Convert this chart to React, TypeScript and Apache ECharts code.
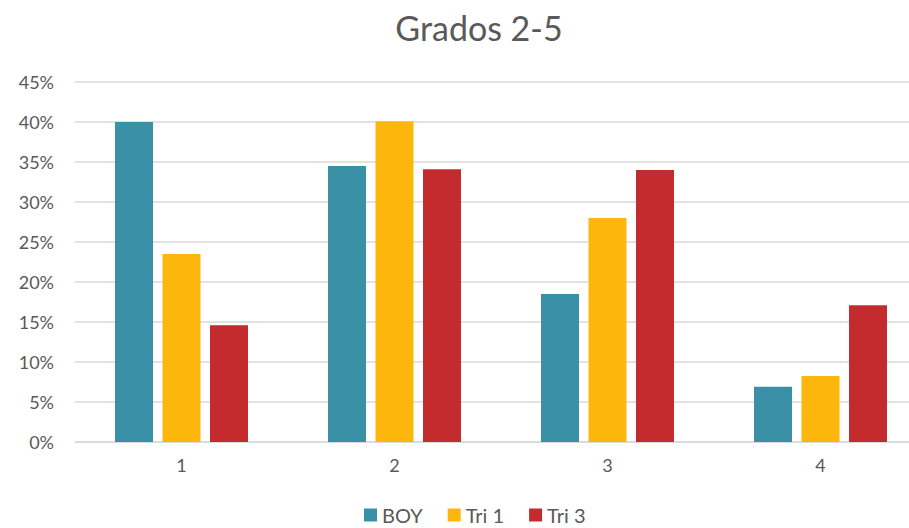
import React, { useEffect, useRef } from "react";
import * as echarts from "echarts";

const categories = ["1", "2", "3", "4"];
const boy = [0.4, 0.345, 0.185, 0.069];
const tri1 = [0.235, 0.401, 0.28, 0.0825];
const tri3 = [0.146, 0.341, 0.34, 0.171];
const seriesNames = ["BOY", "Tri 1", "Tri 3"];
const colors = ["#3A90A7", "#FDB60B", "#C32B2E"];

export default function App() {
  const ref = useRef<HTMLDivElement>(null);
  useEffect(() => {
    if (!ref.current) return;
    const chart = echarts.init(ref.current, undefined, { renderer: "svg" });
    const font = "Lato, 'Open Sans', sans-serif";
    const data = [boy, tri1, tri3];
    chart.setOption({
      animation: false,
      textStyle: { fontFamily: font },
      title: {
        text: "Grados 2-5",
        left: 474,
        top: 5,
        textAlign: "center",
        textStyle: { fontFamily: font, fontSize: 34, fontWeight: "normal", color: "#595959" },
      },
      legend: {
        data: seriesNames,
        left: 364,
        top: 505,
        padding: 0,
        itemWidth: 13,
        itemHeight: 13,
        itemGap: 25,
        icon: "rect",
        textStyle: { fontFamily: font, fontSize: 20, color: "#595959", padding: [0, 0, 0, 0] },
      },
      grid: { left: 75, top: 82, width: 852, height: 360, containLabel: false },
      xAxis: {
        type: "category",
        data: categories,
        axisLine: { show: true, lineStyle: { color: "#D9D9D9", width: 1.5 } },
        axisTick: { show: false },
        axisLabel: { color: "#595959", fontSize: 18, fontFamily: font, margin: 14 },
      },
      yAxis: {
        type: "value",
        min: 0,
        max: 0.45,
        interval: 0.05,
        axisLine: { show: false },
        axisTick: { show: false },
        splitLine: { lineStyle: { color: "#D9D9D9", width: 1.5 } },
        axisLabel: {
          color: "#595959",
          fontSize: 18,
          fontFamily: font,
          margin: 21,
          formatter: (v: number) => Math.round(v * 100) + "%",
        },
      },
      series: seriesNames.map((name, i) => ({
        name,
        type: "bar",
        data: data[i],
        barWidth: 38,
        barGap: "25%",
        itemStyle: { color: colors[i] },
      })),
    });
    return () => chart.dispose();
  }, []);
  return (
    <div style={{ position: "fixed", left: 0, top: 0, width: 909, height: 528, overflow: "hidden", background: "#fff" }}>
      <div ref={ref} style={{ position: "absolute", left: 0, top: 0, width: 954, height: 528 }} />
    </div>
  );
}
